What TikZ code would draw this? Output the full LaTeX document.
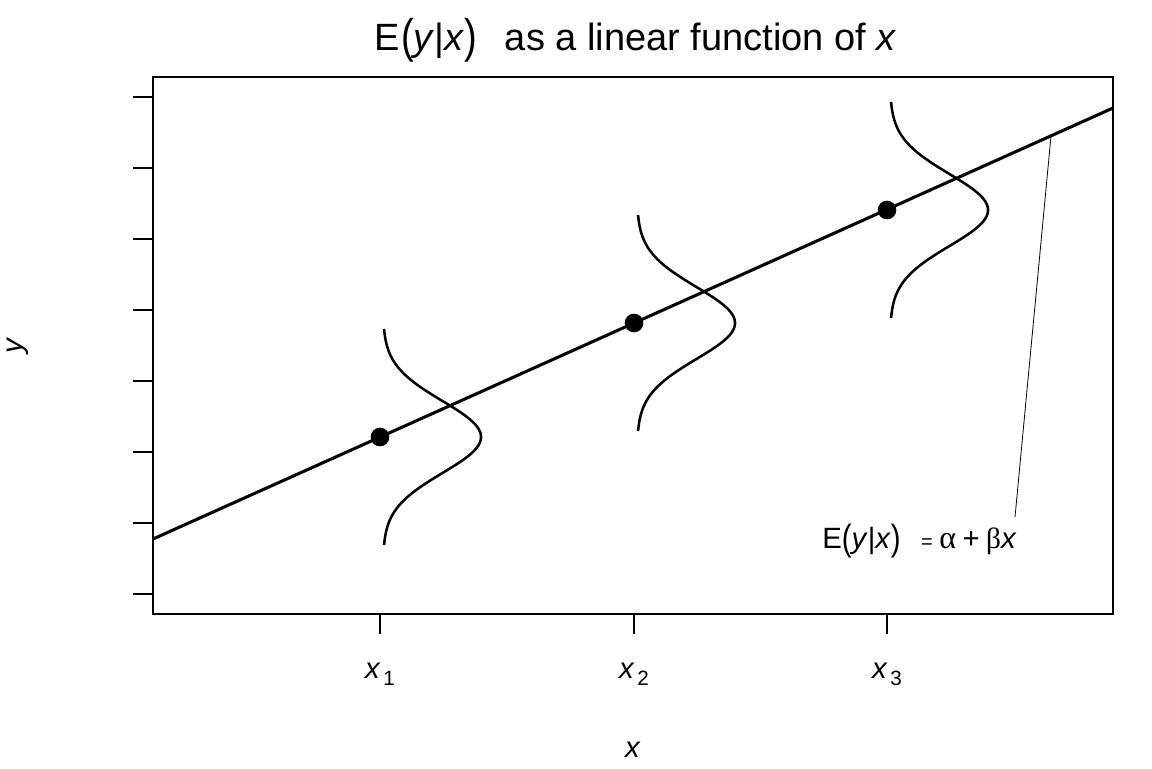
\documentclass[tikz,border=0pt]{standalone}
\usepackage{fontspec}
\setmainfont{Liberation Sans}
\newfontfamily\greekf{Liberation Serif}
\usepackage{graphicx}
\newcommand{\lpar}{\raisebox{-0.07em}{\scalebox{1}[1.24]{(}}}
\newcommand{\rpar}{\raisebox{-0.07em}{\scalebox{1}[1.24]{)}}}
\newcommand{\vx}{\textit{x}}
\newcommand{\vy}{\textit{y}}
\newcommand{\subx}[1]{\textit{x}\kern0.1em\raisebox{-0.25em}{\fontsize{15.5}{15.5}\selectfont #1}}
\tikzset{
  axisline/.style={line width=1.1pt},
  tickmark/.style={line width=1.1pt},
  regline/.style={line width=2.3pt},
  densc/.style={line width=1.9pt},
  meanpt/.style={circle,fill=black,inner sep=0pt,minimum size=14pt},
  leader/.style={line width=0.6pt},
  lbl/.style={inner sep=0pt,anchor=base},
  txt/.style={font=\fontsize{22}{22}\selectfont},
}
\begin{document}
\begin{tikzpicture}[x=0.75pt,y=-0.75pt]
\useasboundingbox (0,0) rectangle (1152,768);
% frame
\draw[axisline] (153,77) rectangle (1113,614);
% y ticks
\foreach \k in {0,...,7}{
  \draw[tickmark] (133,{97+71*\k}) -- (153,{97+71*\k});
}
% x ticks and labels
\foreach \xx/\n in {380/1,634/2,887/3}{
  \draw[tickmark] (\xx,614) -- (\xx,634);
  \node[lbl,txt] (tl\n) at (\xx,678) {\subx{\n}};
}
% regression line
\coordinate (L0) at (153,539);
\coordinate (L1) at (1113,108);
\draw[regline] (L0) -- (L1);
% conditional densities
\draw[densc] plot[domain=-3:3,samples=120,smooth] ({383+98*exp(-\x*\x/2)},{437+36*\x});
\draw[densc] plot[domain=-3:3,samples=120,smooth] ({637+98*exp(-\x*\x/2)},{323+36*\x});
\draw[densc] plot[domain=-3:3,samples=120,smooth] ({890+98*exp(-\x*\x/2)},{210+36*\x});
% means
\node[meanpt] (p1) at (380,437) {};
\node[meanpt] (p2) at (634,323) {};
\node[meanpt] (p3) at (887,210) {};
% label and leader
\coordinate (lt) at (1051,136);
\coordinate (lb) at (1015,517);
\draw[leader] (lt) -- (lb);
\node[lbl,txt,anchor=base west] (lab) at (822,548)
  {E\lpar\vy|\vx\rpar\hspace{0.7em}{\fontsize{15}{15}\selectfont =}\hspace{0.22em}{\greekf\fontsize{24}{24}\selectfont α}\hspace{0.22em}+\hspace{0.22em}{\greekf β}\vx};
% title and axis labels
\node[lbl,anchor=base west,font=\fontsize{28.5}{28.5}\selectfont] (title) at (374,50)
  {\makebox[98pt][l]{E\kern0.04em\lpar\vy|\vx\rpar}as a linear function of \vx};
\node[lbl,txt] (xlab) at (633,757) {\vx};
\node[inner sep=0pt,rotate=90,txt] (ylab) at (18,345) {\vy};
\end{tikzpicture}
\end{document}
